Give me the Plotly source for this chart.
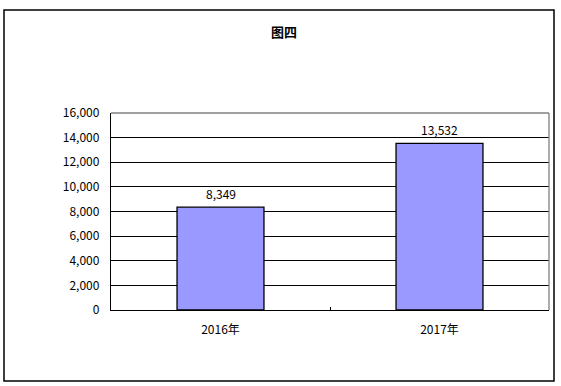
import plotly.graph_objects as go

categories = ["2016年", "2017年"]
values = [8349, 13532]
y_ticks = [0, 2000, 4000, 6000, 8000, 10000, 12000, 14000, 16000]
title_text = "图四"

FONT = "Noto Sans CJK SC"

fig = go.Figure()
fig.add_trace(go.Bar(
    x=categories, y=values,
    marker=dict(color="#9999FF", line=dict(color="#000000", width=1.3)),
    width=0.397,
    hoverinfo="skip",
))

for c, v in zip(categories, values):
    fig.add_annotation(x=c, y=v, text=f"{v:,}", showarrow=False,
                       yshift=14, font=dict(family=FONT, size=12, color="#000"))

fig.update_layout(
    width=561, height=386,
    margin=dict(l=111, r=12, t=113, b=76),
    paper_bgcolor="white", plot_bgcolor="white",
    showlegend=False,
    font=dict(family=FONT, size=12, color="#000"),
    xaxis=dict(
        showline=True, linecolor="#000", linewidth=1.3,
        ticks="inside", tickson="boundaries", ticklen=3, tickcolor="#000",
        showgrid=False, ticklabelstandoff=8,
        tickfont=dict(family=FONT, size=12, color="#000"),
        range=[-0.5, 1.5], fixedrange=True,
    ),
    yaxis=dict(
        range=[0, 16000], tickvals=y_ticks, tickformat=",",
        showgrid=True, gridcolor="#000", gridwidth=1.2,
        showline=True, linecolor="#000", linewidth=1.3,
        ticks="", zeroline=False, ticklabelstandoff=8,
        tickfont=dict(family=FONT, size=12, color="#000"),
        fixedrange=True,
    ),
    annotations=list(fig.layout.annotations) + [
        dict(text=f"<b>{title_text}</b>", x=(284 - 111) / 438, y=(310 - 31) / 197,
             xref="paper", yref="paper", showarrow=False,
             xanchor="center", yanchor="middle",
             font=dict(family=FONT, size=13, color="#000")),
    ],
    shapes=[
        # outer chart border
        dict(type="rect", xref="paper", yref="paper",
             x0=(4 - 111) / 438, x1=(554 - 111) / 438,
             y0=(310 - 381) / 197, y1=(310 - 10) / 197,
             line=dict(color="#000", width=1.5), fillcolor="rgba(0,0,0,0)", layer="below"),
        # gray plot frame (top & right)
        dict(type="line", xref="paper", yref="paper", x0=0, x1=1, y0=1, y1=1,
             line=dict(color="#808080", width=1.3)),
        dict(type="line", xref="paper", yref="paper", x0=1, x1=1, y0=0, y1=1,
             line=dict(color="#808080", width=1.3)),
    ],
)

fig.write_html("out.html")
